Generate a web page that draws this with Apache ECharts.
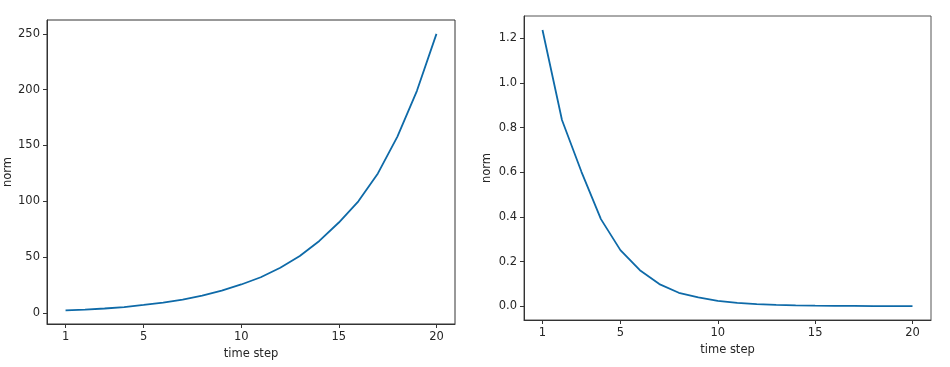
<!DOCTYPE html>
<html>
<head>
<meta charset="utf-8">
<script src="https://cdn.jsdelivr.net/npm/echarts@6/dist/echarts.min.js"></script>
<style>
html,body{margin:0;padding:0;background:#fff;}
#chart{width:950px;height:367px;}
</style>
</head>
<body>
<div id="chart"></div>
<script>
// ---- data ----
const timeSteps = [1,2,3,4,5,6,7,8,9,10,11,12,13,14,15,16,17,18,19,20];
const growthNorm = [2.3,3.0,4.0,5.3,7.2,9.3,12,15.5,20,25.5,32,40.5,51,64.5,81,100,125,158,199,250];
const decayNorm = [1.237,0.834,0.602,0.390,0.251,0.161,0.099,0.060,0.039,0.024,0.015,0.0095,0.006,0.0038,0.0024,0.0015,0.001,0.0006,0.0004,0.00025];
const xTicks = [1,5,10,15,20];
const leftYTicks = [0,50,100,150,200,250];
const rightYTicks = [0,0.2,0.4,0.6,0.8,1.0,1.2];
const xName = 'time step';
const yName = 'norm';

const FONT = 'DejaVu Sans';
const FS = 11.5;
const TXT = '#262626';
const FRAME = '#333333';
const LINE = '#0e6aa8';

function pairs(xs, ys){ return xs.map((x,i)=>[x, ys[i]]); }

function xAxisCfg(gi){
  return {
    gridIndex: gi, type: 'value', min: 0.05, max: 20.95,
    name: xName, nameLocation: 'middle', nameGap: 21,
    nameTextStyle: {fontFamily: FONT, fontSize: FS, color: TXT},
    axisLine: {show: true, onZero: false, lineStyle: {color: FRAME, width: 1}},
    axisTick: {show: true, length: 4, lineStyle: {color: FRAME}, customValues: xTicks},
    axisLabel: {show: true, margin: 7, fontFamily: FONT, fontSize: FS, color: TXT, customValues: xTicks,
      showMinLabel: true, showMaxLabel: true},
    splitLine: {show: false}
  };
}
function yAxisCfg(gi, min, max, ticks, fmt, gap){
  return {
    gridIndex: gi, type: 'value', min: min, max: max,
    name: yName, nameLocation: 'middle', nameGap: gap, nameRotate: 90,
    nameTextStyle: {fontFamily: FONT, fontSize: FS, color: TXT},
    axisLine: {show: true, onZero: false, lineStyle: {color: FRAME, width: 1}},
    axisTick: {show: true, length: 4, lineStyle: {color: FRAME}, customValues: ticks},
    axisLabel: {show: true, margin: 7, fontFamily: FONT, fontSize: FS, color: TXT, customValues: ticks,
      formatter: fmt},
    splitLine: {show: false}
  };
}

const chart = echarts.init(document.getElementById('chart'), null, {renderer: 'canvas'});
chart.setOption({
  backgroundColor: '#ffffff',
  animation: false,
  grid: [
    {left: 47, top: 20, width: 408, height: 304, show: true, borderColor: FRAME, borderWidth: 1, containLabel: false},
    {left: 524, top: 16, width: 407, height: 304, show: true, borderColor: '#555555', borderWidth: 1, containLabel: false}
  ],
  xAxis: [xAxisCfg(0), xAxisCfg(1)],
  yAxis: [
    yAxisCfg(0, -9.9, 262.4, leftYTicks, v => String(Math.round(v)), 32),
    yAxisCfg(1, -0.062, 1.3, rightYTicks, v => v.toFixed(1), 31)
  ],
  series: [
    {type: 'line', xAxisIndex: 0, yAxisIndex: 0, data: pairs(timeSteps, growthNorm),
     showSymbol: false, smooth: false, lineStyle: {color: LINE, width: 1.8}},
    {type: 'line', xAxisIndex: 1, yAxisIndex: 1, data: pairs(timeSteps, decayNorm),
     showSymbol: false, smooth: false, lineStyle: {color: LINE, width: 1.8}}
  ]
});
</script>
</body>
</html>
